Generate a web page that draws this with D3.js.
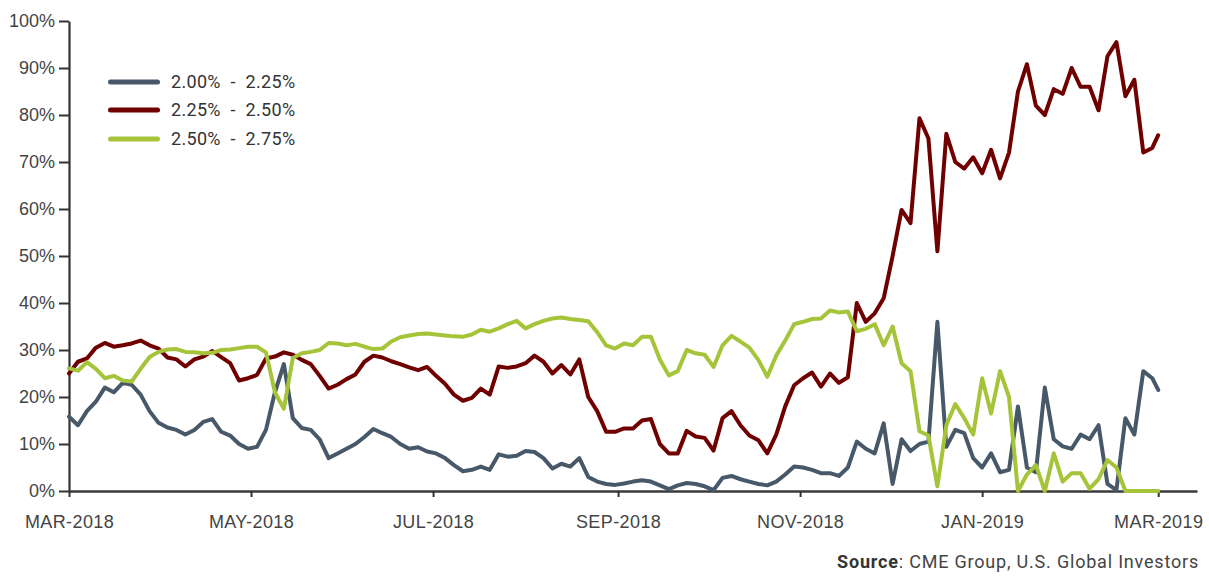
<!DOCTYPE html>
<html>
<head>
<meta charset="utf-8">
<script src="https://cdn.jsdelivr.net/npm/d3@7"></script>
<style>
  html, body { margin: 0; padding: 0; background: #fff; }
  svg { display: block; font-family: Roboto, "Open Sans", sans-serif; }
</style>
</head>
<body>
<svg id="chart" width="1209" height="576"></svg>
<script>
// Observation dates (every third day, Mar 2018 – Mar 2019)
const dates = [
  "2018-03-01","2018-03-04","2018-03-07","2018-03-10","2018-03-13","2018-03-16","2018-03-19","2018-03-22","2018-03-25","2018-03-28",
  "2018-03-31","2018-04-03","2018-04-06","2018-04-09","2018-04-12","2018-04-15","2018-04-18","2018-04-21","2018-04-24","2018-04-27",
  "2018-04-30","2018-05-03","2018-05-06","2018-05-09","2018-05-12","2018-05-15","2018-05-18","2018-05-21","2018-05-24","2018-05-27",
  "2018-05-30","2018-06-02","2018-06-05","2018-06-08","2018-06-11","2018-06-14","2018-06-17","2018-06-20","2018-06-23","2018-06-26",
  "2018-06-29","2018-07-02","2018-07-05","2018-07-08","2018-07-11","2018-07-14","2018-07-17","2018-07-20","2018-07-23","2018-07-26",
  "2018-07-29","2018-08-01","2018-08-04","2018-08-07","2018-08-10","2018-08-13","2018-08-16","2018-08-19","2018-08-22","2018-08-25",
  "2018-08-28","2018-08-31","2018-09-03","2018-09-06","2018-09-09","2018-09-12","2018-09-15","2018-09-18","2018-09-21","2018-09-24",
  "2018-09-27","2018-09-30","2018-10-03","2018-10-06","2018-10-09","2018-10-12","2018-10-15","2018-10-18","2018-10-21","2018-10-24",
  "2018-10-27","2018-10-30","2018-11-02","2018-11-05","2018-11-08","2018-11-11","2018-11-14","2018-11-17","2018-11-20","2018-11-23",
  "2018-11-26","2018-11-29","2018-12-02","2018-12-05","2018-12-08","2018-12-11","2018-12-14","2018-12-17","2018-12-20","2018-12-23",
  "2018-12-26","2018-12-29","2019-01-01","2019-01-04","2019-01-07","2019-01-10","2019-01-13","2019-01-16","2019-01-19","2019-01-22",
  "2019-01-25","2019-01-28","2019-01-31","2019-02-03","2019-02-06","2019-02-09","2019-02-12","2019-02-15","2019-02-18","2019-02-21",
  "2019-02-24","2019-02-27","2019-03-01"
];

// Probability (%) of each target-rate range
const range200to225 = [
  15.8,14,17,19,22,21,23,22.6,20.5,17,
  14.5,13.5,13,12,13,14.7,15.3,12.6,11.8,10,
  9,9.4,13,21,27,15.5,13.4,13,11,7,
  8,9,10,11.5,13.2,12.3,11.5,10,9,9.3,
  8.4,8,7,5.5,4.2,4.5,5.2,4.5,7.8,7.3,
  7.5,8.5,8.3,7,4.8,5.8,5.2,7,3,2,
  1.5,1.3,1.6,2,2.3,2,1.2,0.4,1.2,1.7,
  1.5,1,0.2,2.8,3.2,2.5,2,1.5,1.2,2,
  3.5,5.2,5,4.5,3.8,3.8,3.2,5,10.5,9,
  8,14.4,1.5,11,8.5,10,10.5,36,9.4,13,
  12.3,7,5,8,4,4.5,18,5,4,22,
  11,9.5,9,12,11,14,1.5,0.2,15.5,12,
  25.5,24,21.5
];
const range225to250 = [
  25,27.5,28.2,30.5,31.5,30.7,31,31.4,32,31,
  30.3,28.4,28,26.5,28,28.6,29.8,28.5,27.2,23.5,
  24,24.7,28.2,28.6,29.5,29,27.9,27,24.5,21.8,
  22.6,23.8,24.8,27.5,28.8,28.4,27.6,27,26.3,25.7,
  26.4,24.5,22.8,20.5,19.2,19.8,21.8,20.5,26.5,26.2,
  26.5,27.2,28.8,27.5,25,26.8,24.8,28,20,17,
  12.6,12.6,13.3,13.3,15,15.3,10,8,8,12.8,
  11.6,11.3,8.6,15.5,17,14,11.8,10.8,8,12,
  18,22.5,24,25.2,22.2,25,23,24.2,40,36,
  37.8,41,50,59.8,57,79.3,75,51,76,70,
  68.6,71,67.6,72.6,66.5,72,85,90.8,82,80,
  85.5,84.5,90,86,86,81,92.5,95.5,84,87.5,
  72,73,75.7
];
const range250to275 = [
  26.1,25.6,27.4,26,24,24.5,23.5,23.3,26,28.5,
  29.6,30.1,30.2,29.6,29.5,29.3,29.4,30,30.1,30.4,
  30.7,30.7,29.5,21,17.5,28.3,29.3,29.6,30,31.5,
  31.4,31,31.3,30.7,30.2,30.3,31.8,32.7,33.1,33.4,
  33.5,33.3,33.1,32.9,32.8,33.3,34.3,33.9,34.6,35.5,
  36.2,34.6,35.5,36.2,36.7,36.9,36.6,36.4,36.1,33.8,
  31,30.3,31.4,31,32.8,32.8,28,24.6,25.5,30,
  29.3,29,26.4,31,33,31.8,30.5,27.9,24.3,28.8,
  32,35.5,36,36.6,36.7,38.4,38,38.2,34,34.5,
  35.5,31,35,27.2,25.5,12.7,11.8,1,14,18.5,
  15.5,12,24,16.5,25.5,20,0,3.5,5.5,0,
  8,2,3.8,3.8,0.5,2.5,6.6,5,0,0,
  0,0,0
];

const seriesLabels = ["2.00% - 2.25%", "2.25% - 2.50%", "2.50% - 2.75%"];
const seriesColors = ["#475869", "#700000", "#a5c43a"];

const yTickValues = [0, 10, 20, 30, 40, 50, 60, 70, 80, 90, 100];
const xTickDates = ["2018-03-01","2018-05-01","2018-07-01","2018-09-01","2018-11-01","2019-01-01","2019-03-01"];
const xTickLabels = ["MAR-2018","MAY-2018","JUL-2018","SEP-2018","NOV-2018","JAN-2019","MAR-2019"];
const sourceHead = "Source";
const sourceBody = ": CME Group, U.S. Global Investors";

const parse = d3.timeParse("%Y-%m-%d");
const seriesValues = [range200to225, range225to250, range250to275];

const svg = d3.select("#chart");

const x = d3.scaleTime()
  .domain([parse("2018-03-01"), parse("2019-03-14")])
  .range([69, 1197]);
const y = d3.scaleLinear().domain([0, 100]).range([491, 21]);

// Y axis
const yAxis = svg.append("g")
  .attr("transform", "translate(69,0)")
  .call(d3.axisLeft(y).tickValues(yTickValues).tickSize(10).tickSizeOuter(0)
    .tickPadding(4).tickFormat(d => d + "%"));
yAxis.select(".domain").attr("stroke", "#333").attr("stroke-width", 2.2);
yAxis.selectAll(".tick line").attr("stroke", "#333").attr("stroke-width", 2);
yAxis.selectAll(".tick text").attr("fill", "#444").attr("font-size", 18);

// X axis
const xAxis = svg.append("g")
  .attr("transform", "translate(0,491)")
  .call(d3.axisBottom(x).tickValues(xTickDates.map(parse)).tickSize(6).tickSizeOuter(0)
    .tickPadding(18).tickFormat((d, i) => xTickLabels[i]));
xAxis.select(".domain").attr("stroke", "#3a3a3a").attr("stroke-width", 2.5);
xAxis.selectAll(".tick line").attr("stroke", "#333").attr("stroke-width", 2);
xAxis.selectAll(".tick text").attr("fill", "#444").attr("font-size", 18)
  .attr("letter-spacing", "0.4px");

// Series lines
const line = d3.line()
  .x((d, i) => x(parse(dates[i])))
  .y(d => y(d));

svg.append("g").selectAll("path")
  .data(seriesValues)
  .join("path")
  .attr("fill", "none")
  .attr("stroke", (d, i) => seriesColors[i])
  .attr("stroke-width", 4)
  .attr("stroke-linejoin", "round")
  .attr("stroke-linecap", "round")
  .attr("d", line);

// Legend
const legend = svg.append("g");
const legendRows = [88, 116, 145];
seriesLabels.forEach((label, i) => {
  legend.append("line")
    .attr("x1", 110.5).attr("x2", 157.5)
    .attr("y1", legendRows[i] - 6).attr("y2", legendRows[i] - 6)
    .attr("stroke", seriesColors[i]).attr("stroke-width", 5)
    .attr("stroke-linecap", "round");
  legend.append("text")
    .attr("x", 171).attr("y", legendRows[i])
    .attr("font-size", 18).attr("fill", "#333")
    .attr("letter-spacing", "0.3px")
    .attr("word-spacing", "5px")
    .text(label);
});

// Source note
const src = svg.append("text")
  .attr("x", 1199).attr("y", 568)
  .attr("text-anchor", "end")
  .attr("font-size", 18).attr("fill", "#333")
  .attr("letter-spacing", "0.8px");
src.append("tspan").attr("font-weight", "bold").text(sourceHead);
src.append("tspan").attr("fill", "#444").text(sourceBody);
</script>
</body>
</html>
